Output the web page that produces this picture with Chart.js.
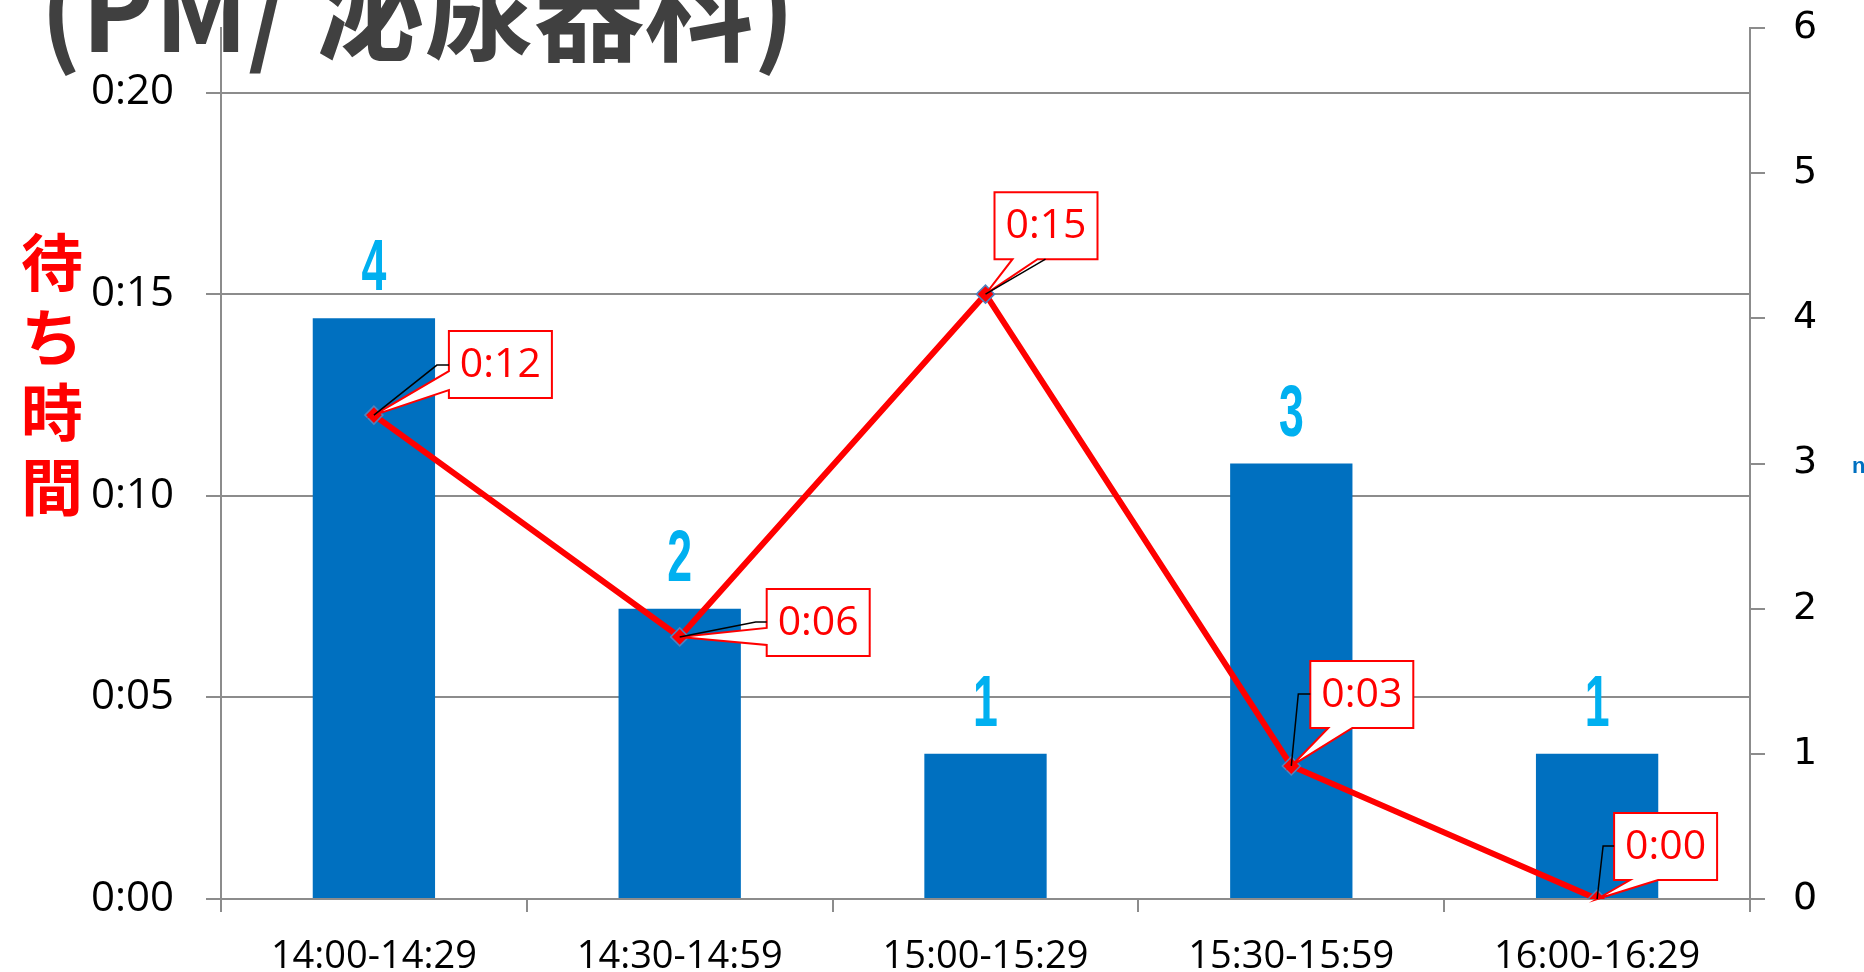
<!DOCTYPE html>
<html lang="ja">
<head>
<meta charset="utf-8">
<title>待ち時間 (PM/ 泌尿器科)</title>
<script src="https://cdn.jsdelivr.net/npm/chart.js@4.4.1/dist/chart.umd.min.js"></script>
<style>
    html, body { margin: 0; padding: 0; background: #ffffff; }
    #wrap { width: 1864px; height: 972px; }
</style>
</head>
<body>
<div id="wrap"><canvas id="waitChart" width="1864" height="972"></canvas></div>
<script>
        // Time slots (x axis)
        const slots = ['14:00-14:29', '14:30-14:59', '15:00-15:29', '15:30-15:59', '16:00-16:29'];

        // Number of patients per slot (bars, right axis)
        const patients = [4, 2, 1, 3, 1];

        // Waiting time in minutes (red line, left axis)
        const waitMinutes = [12, 6.5, 15, 3.3, 0];

        // Left axis range in minutes (Excel max was 0.015 day = 21.6 min)
        const waitAxisMax = 21.6;
        const waitAxisStep = 5;

        // Right axis range
        const countAxisMax = 6;

        // Texts
        const titleText = '(PM/ 泌尿器科)';
        const yTitleChars = ['待', 'ち', '時', '間'];
        const rightTitle = 'n';

        // Callout layout: box offset from the point, tail side, leader line (relative to box)
        const callouts = [
            { box: [75, -84], tail: ['left', 40, 59], leader: [[-12, 34], [0, 34]] },
            { box: [87, -48], tail: ['left', 39, 56], leader: [[-11, 33], [0, 33]] },
            { box: [9, -102], tail: ['bottom', 18, 43], leader: [[51, 67]] },
            { box: [19, -105], tail: ['bottom', 18, 42], leader: [[-12, 33], [0, 33]] },
            { box: [17, -86], tail: ['bottom', 16, 44], leader: [[-11, 33], [0, 33]] }
        ];

        const RED = '#ff0000';
        const BLUE = '#0070c0';
        const LIGHT_BLUE = '#00b0f0';
        const GRID = '#8c8c8c';

        function fmtMinutes(m) {
            const mm = Math.floor(m);
            return '0:' + String(mm).padStart(2, '0');
        }

        // keep the plot area where the reference has it
        function fixVertical(width) {
            return function (scale) {
                scale.width = width;
                scale.paddingTop = 28;
                scale.paddingBottom = 0;
            };
        }

        // Extra drawing: title, axis titles, bar numbers, callouts
        const extrasPlugin = {
            id: 'extras',
            beforeDraw(chart) {
                const ctx = chart.ctx;
                ctx.save();
                ctx.fillStyle = '#404040';
                ctx.font = '700 118px "Noto Sans CJK JP"';
                ctx.textBaseline = 'alphabetic';
                ctx.textAlign = 'left';
                const w = ctx.measureText(titleText).width;
                ctx.translate(40, 52);
                ctx.scale(755 / w, 1);
                ctx.fillText(titleText, 0, 0);
                ctx.restore();
            },
            afterDatasetsDraw(chart) {
                const ctx = chart.ctx;

                // vertical axis title
                ctx.save();
                ctx.fillStyle = RED;
                ctx.font = '700 62px "Noto Sans CJK JP"';
                ctx.textAlign = 'center';
                ctx.textBaseline = 'middle';
                yTitleChars.forEach((ch, i) => {
                    ctx.fillText(ch, 52, 262 + i * 75);
                });
                ctx.restore();

                // right axis title (cut at the edge)
                ctx.save();
                ctx.fillStyle = BLUE;
                ctx.font = '700 22px "Liberation Sans"';
                ctx.textAlign = 'left';
                ctx.textBaseline = 'alphabetic';
                ctx.fillText(rightTitle, 1852, 473);
                ctx.restore();

                // numbers above bars
                const barMeta = chart.getDatasetMeta(1);
                barMeta.data.forEach((bar, i) => {
                    ctx.save();
                    ctx.fillStyle = LIGHT_BLUE;
                    ctx.font = '700 72px "Liberation Sans"';
                    ctx.textAlign = 'center';
                    ctx.textBaseline = 'alphabetic';
                    ctx.translate(bar.x, bar.y - 28);
                    ctx.scale(0.62, 1);
                    ctx.fillText(String(patients[i]), 0, 0);
                    ctx.restore();
                });

                // callouts on the line points
                const lineMeta = chart.getDatasetMeta(0);
                lineMeta.data.forEach((pt, i) => {
                    const c = callouts[i];
                    const bw = 103, bh = 67;
                    const bx = pt.x + c.box[0];
                    const by = pt.y + c.box[1];

                    ctx.save();
                    ctx.beginPath();
                    ctx.moveTo(bx, by);
                    ctx.lineTo(bx + bw, by);
                    ctx.lineTo(bx + bw, by + bh);
                    if (c.tail[0] === 'bottom') {
                        ctx.lineTo(bx + c.tail[2], by + bh);
                        ctx.lineTo(pt.x, pt.y);
                        ctx.lineTo(bx + c.tail[1], by + bh);
                        ctx.lineTo(bx, by + bh);
                    } else {
                        ctx.lineTo(bx, by + bh);
                        ctx.lineTo(bx, by + c.tail[2]);
                        ctx.lineTo(pt.x, pt.y);
                        ctx.lineTo(bx, by + c.tail[1]);
                    }
                    ctx.closePath();
                    ctx.fillStyle = '#ffffff';
                    ctx.fill();
                    ctx.strokeStyle = RED;
                    ctx.lineWidth = 2;
                    ctx.stroke();

                    // leader line
                    ctx.beginPath();
                    ctx.moveTo(pt.x, pt.y);
                    c.leader.forEach(p => ctx.lineTo(bx + p[0], by + p[1]));
                    ctx.strokeStyle = '#000000';
                    ctx.lineWidth = 1.5;
                    ctx.stroke();

                    ctx.fillStyle = RED;
                    ctx.font = '41px "Open Sans"';
                    ctx.textAlign = 'center';
                    ctx.textBaseline = 'middle';
                    ctx.fillText(fmtMinutes(waitMinutes[i]), bx + bw / 2, by + bh / 2 + 1);
                    ctx.restore();
                });
            }
        };

        const ctx = document.getElementById('waitChart').getContext('2d');
        new Chart(ctx, {
            data: {
                labels: slots,
                datasets: [
                    {
                        type: 'line',
                        label: '待ち時間',
                        data: waitMinutes,
                        yAxisID: 'y',
                        order: 0,
                        borderColor: RED,
                        borderWidth: 6,
                        tension: 0,
                        fill: false,
                        pointStyle: 'rectRot',
                        pointRadius: 9,
                        pointBackgroundColor: RED,
                        pointBorderColor: '#4f81bd',
                        pointBorderWidth: 1.5
                    },
                    {
                        type: 'bar',
                        label: 'n',
                        data: patients,
                        yAxisID: 'y1',
                        order: 1,
                        backgroundColor: BLUE,
                        barPercentage: 0.4,
                        categoryPercentage: 1
                    }
                ]
            },
            options: {
                responsive: false,
                animation: false,
                devicePixelRatio: 1,
                layout: { padding: 0 },
                plugins: {
                    legend: { display: false },
                    tooltip: { enabled: false }
                },
                scales: {
                    x: {
                        offset: true,
                        afterFit(scale) {
                            scale.height = 73;
                            scale.paddingLeft = 0;
                            scale.paddingRight = 0;
                        },
                        grid: {
                            offset: true,
                            drawOnChartArea: false,
                            color: GRID,
                            lineWidth: 2,
                            tickLength: 13
                        },
                        border: { color: GRID, width: 2 },
                        ticks: {
                            color: '#000000',
                            padding: 22,
                            maxRotation: 0,
                            font: { family: 'Open Sans', size: 38 }
                        }
                    },
                    y: {
                        position: 'left',
                        min: 0,
                        max: waitAxisMax,
                        afterFit: fixVertical(221),
                        grid: { color: GRID, lineWidth: 2, tickLength: 15 },
                        border: { color: GRID, width: 2 },
                        ticks: {
                            stepSize: waitAxisStep,
                            includeBounds: false,
                            color: '#000000',
                            padding: 32,
                            font: { family: 'Open Sans', size: 42 },
                            callback: v => fmtMinutes(v)
                        }
                    },
                    y1: {
                        position: 'right',
                        min: 0,
                        max: countAxisMax,
                        afterFit: fixVertical(114),
                        grid: { drawOnChartArea: false, color: GRID, lineWidth: 2, tickLength: 15 },
                        border: { color: GRID, width: 2 },
                        ticks: {
                            stepSize: 1,
                            color: '#000000',
                            padding: 28,
                            font: { family: 'DejaVu Sans', size: 38 }
                        }
                    }
                }
            },
            plugins: [extrasPlugin]
        });
</script>
</body>
</html>
